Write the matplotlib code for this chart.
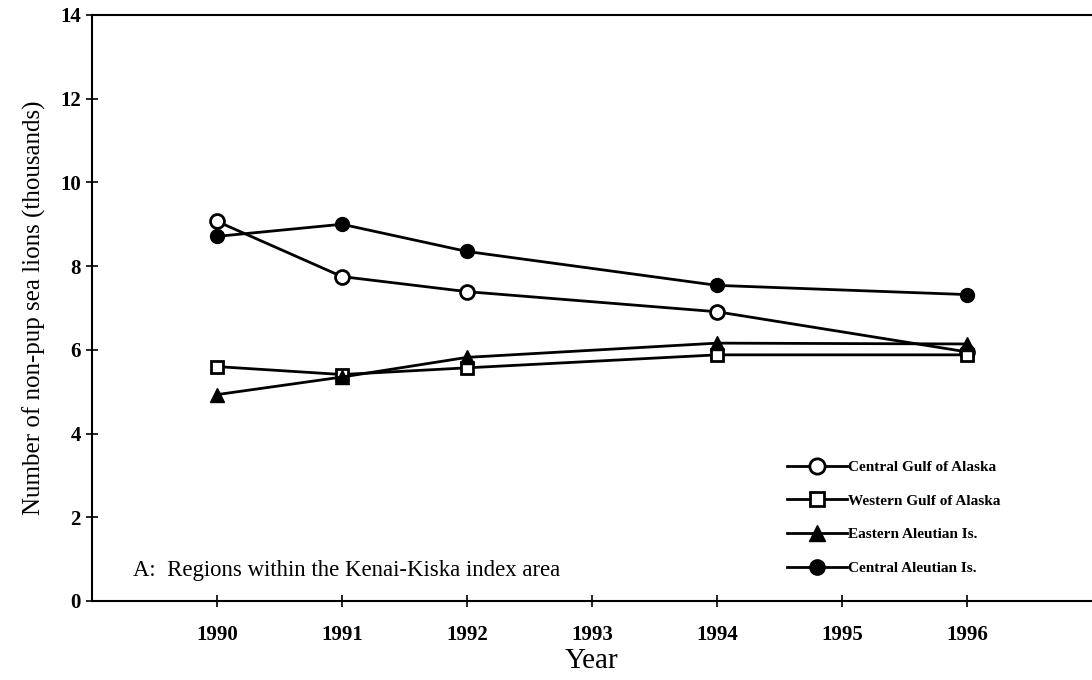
import numpy as np
import matplotlib.pyplot as plt

plt.rcParams['font.family'] = 'Liberation Serif'

# Survey years and counts of non-pup sea lions (thousands)
years = [1990, 1991, 1992, 1994, 1996]
central_gulf = [9.07, 7.75, 7.39, 6.91, 5.95]
western_gulf = [5.60, 5.41, 5.57, 5.88, 5.88]
eastern_aleutian = [4.93, 5.35, 5.82, 6.16, 6.14]
central_aleutian = [8.71, 9.00, 8.35, 7.54, 7.32]

fig = plt.figure(figsize=(10.92, 6.8), dpi=100)
ax = fig.add_axes([0.0842, 0.1162, 0.9158, 0.8618])

ax.plot(years, central_gulf, color='black', lw=2, marker='o', ms=10,
        mfc='white', mec='black', mew=2, label='Central Gulf of Alaska')
ax.plot(years, western_gulf, color='black', lw=2, marker='s', ms=9,
        mfc='white', mec='black', mew=2, label='Western Gulf of Alaska')
ax.plot(years, eastern_aleutian, color='black', lw=2, marker='^', ms=10,
        mfc='black', mec='black', label='Eastern Aleutian Is.')
ax.plot(years, central_aleutian, color='black', lw=2, marker='o', ms=10,
        mfc='black', mec='black', label='Central Aleutian Is.')

ax.set_xlim(1989, 1997)
ax.set_ylim(0, 14)
ax.set_xticks(range(1990, 1997))
ax.set_yticks(range(0, 15, 2))
ax.tick_params(direction='inout', length=9, width=1.2, labelsize=15)
ax.tick_params(axis='x', pad=13)
for lbl in ax.get_xticklabels() + ax.get_yticklabels():
    lbl.set_fontweight('bold')
ax.spines['right'].set_visible(False)
for s in ['left', 'bottom', 'top']:
    ax.spines[s].set_linewidth(1.5)

ax.set_xlabel('Year', fontsize=21, labelpad=2)
ax.set_ylabel('Number of non-pup sea lions (thousands)', fontsize=18, labelpad=10)

ax.text(1989.33, 0.6, 'A:  Regions within the Kenai-Kiska index area', fontsize=16.4)

leg = ax.legend(loc='upper left', bbox_to_anchor=(0.689, 0.25), frameon=False,
                fontsize=11, handlelength=3.9, handletextpad=0.1,
                labelspacing=1.3, borderaxespad=0, markerscale=1.1)
for t in leg.get_texts():
    t.set_fontweight('bold')

fig.savefig('out.png', dpi=100)
